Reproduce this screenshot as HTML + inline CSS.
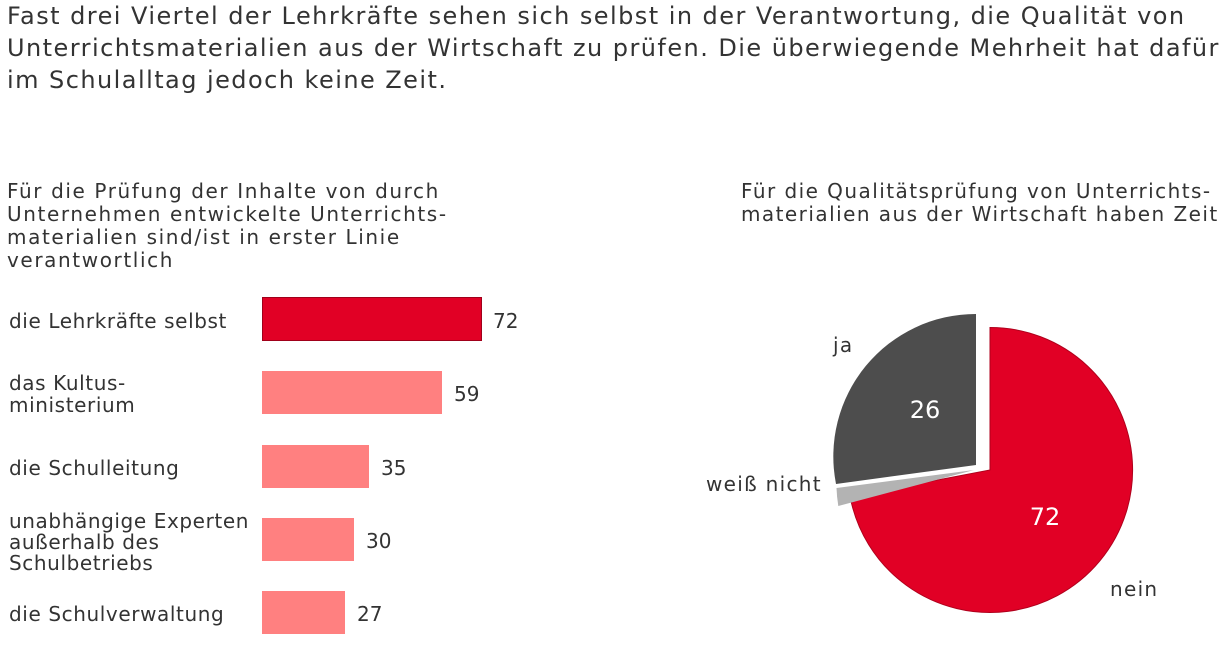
<!DOCTYPE html>
<html><head><meta charset="utf-8"><style>
body{margin:0;width:1230px;height:658px;background:#fff;font-family:"DejaVu Sans","Liberation Sans",sans-serif;color:#333;position:relative;overflow:hidden}
.t{position:absolute;white-space:nowrap}
</style></head><body>
<div class="t" style="left:7px;top:0px;font-size:24px;line-height:32px;letter-spacing:1.45px">Fast drei Viertel der Lehrkräfte sehen sich selbst in der Verantwortung, die Qualität von<br>Unterrichtsmaterialien aus der Wirtschaft zu prüfen. Die überwiegende Mehrheit hat dafür<br>im Schulalltag jedoch keine Zeit.</div>
<div class="t" style="left:7px;top:180px;font-size:20px;line-height:23px;letter-spacing:1.6px">Für die Prüfung der Inhalte von durch<br>Unternehmen entwickelte Unterrichts-<br>materialien sind/ist in erster Linie<br>verantwortlich</div>
<div class="t" style="left:741px;top:180px;font-size:20px;line-height:23px;letter-spacing:1.45px">Für die Qualitätsprüfung von Unterrichts-<br>materialien aus der Wirtschaft haben Zeit</div>
<svg width="1230" height="658" style="position:absolute;left:0;top:0" font-family="DejaVu Sans, Liberation Sans, sans-serif">
<g font-size="20" fill="#333">
<rect x="262.5" y="297.5" width="219" height="43" fill="#e10025" stroke="#a0001a"/>
<rect x="262" y="371" width="180" height="43" fill="#ff8080"/>
<rect x="262" y="445" width="107" height="43" fill="#ff8080"/>
<rect x="262" y="518" width="92" height="43" fill="#ff8080"/>
<rect x="262" y="591" width="83" height="43" fill="#ff8080"/>
<text x="493" y="328">72</text>
<text x="454" y="401">59</text>
<text x="381" y="475">35</text>
<text x="366" y="548">30</text>
<text x="357" y="621">27</text>
<g letter-spacing="0.6">
<text x="9" y="328">die Lehrkräfte selbst</text>
<text x="9" y="390">das Kultus-</text>
<text x="9" y="412">ministerium</text>
<text x="9" y="475">die Schulleitung</text>
<text x="9" y="528">unabhängige Experten</text>
<text x="9" y="549">außerhalb des</text>
<text x="9" y="570">Schulbetriebs</text>
<text x="9" y="621">die Schulverwaltung</text>
</g>
</g>
<path d="M990,470 L990,327.5 A142.5,142.5 0 1 1 850.1,496.6 Z" fill="#e10025" stroke="#b0001c" stroke-width="1"/>
<path d="M976,465 L836,484 A142.5,142.5 0 0 1 976,314 Z" fill="#4d4d4d"/>
<path d="M974,470 L836.5,488 A142.5,142.5 0 0 0 838.3,506 Z" fill="#b3b3b3"/>
<g font-size="24" fill="#fff"><text x="925" y="418" text-anchor="middle">26</text><text x="1045" y="525" text-anchor="middle">72</text></g>
<g font-size="20" fill="#333" letter-spacing="1.3"><text x="833" y="352">ja</text><text x="706" y="491">weiß nicht</text><text x="1110" y="596">nein</text></g>
</svg>
</body></html>
